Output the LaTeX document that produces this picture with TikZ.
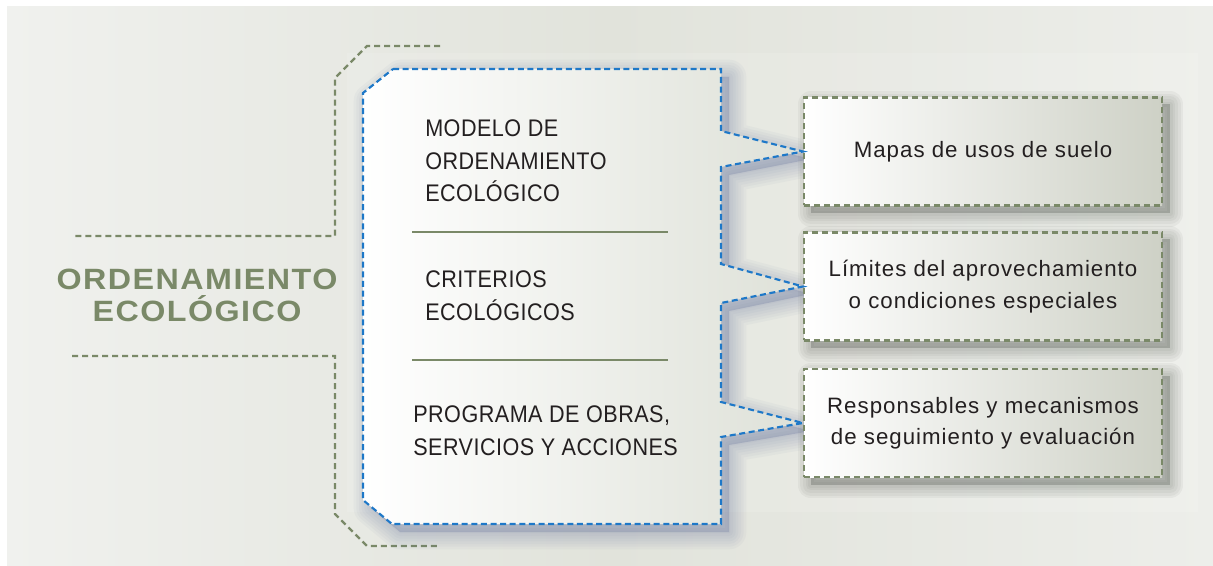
\documentclass[tikz,border=0pt]{standalone}
\usepackage{fontspec}
\setmainfont{Liberation Sans}
\newfontfamily\titlefont{Liberation Sans}[FakeStretch=1.1,LetterSpace=5]
\newfontfamily\panelfont{Liberation Sans}[FakeStretch=0.9,LetterSpace=2]
\newfontfamily\boxfont{Liberation Sans}[LetterSpace=4.5]
\definecolor{sage}{RGB}{122,137,104}
\definecolor{dashblue}{RGB}{30,120,200}
\definecolor{ink}{RGB}{35,31,32}
\definecolor{bgL}{RGB}{240,241,238}
\definecolor{bgM}{RGB}{225,227,219}
\definecolor{bgR}{RGB}{237,238,234}
\definecolor{boxR}{RGB}{206,209,198}
\definecolor{panelR}{RGB}{222,225,216}
\definecolor{boxshadow}{RGB}{80,85,78}
\definecolor{panelshadow}{RGB}{90,105,150}
\begin{document}
\begin{tikzpicture}[x=0.75pt,y=-0.75pt,
  bracket/.style={draw=sage, line width=1.8pt, dash pattern=on 4.5pt off 3pt},
  divider/.style={draw=sage, line width=1.5pt},
  titletext/.style={inner sep=0pt, align=center, text=sage,
    font=\titlefont\bfseries\fontsize{22}{24}\selectfont},
  paneltext/.style={inner sep=0pt, align=left, text=ink,
    font=\panelfont\fontsize{18}{24.4}\selectfont},
  outbox/.style={draw=sage, line width=1.6pt, dash pattern=on 4.5pt off 3pt,
    left color=white, right color=boxR,
    minimum width=268.5pt, minimum height=81pt, inner sep=0pt,
    align=center, text=ink, font=\boxfont\fontsize{16.7}{23.6}\selectfont},
  panel/.style={draw=dashblue, line width=1.6pt, dash pattern=on 4.5pt off 2.7pt,
    left color=white, right color=panelR},
  softshadow/.style={line join=round, opacity=0.045, line width=#1}
]
\useasboundingbox (0,0) rectangle (1213,566);
% background
\fill[left color=bgL, right color=bgR, middle color=bgM] (7,7) rectangle (1213,566);
\fill[white, opacity=0.12] (347,53) rectangle (1198,512);

% title
\node[titletext, anchor=north] (title) at (197,269) {ORDENAMIENTO\\ECOLÓGICO};

% bracket
\draw[bracket] (440,46) -- (367,46) -- (335,78) -- (335,236) -- (72,236);
\draw[bracket] (72,356) -- (335,356) -- (335,514) -- (367,546) -- (440,546);

% soft shadow of the panel
\foreach \w in {26,22,18,14,10,6,2}{
  \draw[softshadow=\w pt, draw=panelshadow, shift={(8,8)}]
    (393,69) -- (721,69) -- (721,131) -- (803,151) -- (721,167)
    -- (721,264) -- (803,286) -- (721,303) -- (721,402) -- (803,423) -- (721,437)
    -- (721,524) -- (392,524) -- (363,500) -- (363,93) -- cycle;
}
\fill[panelshadow, opacity=0.25, shift={(8,8)}]
    (393,69) -- (721,69) -- (721,131) -- (803,151) -- (721,167)
    -- (721,264) -- (803,286) -- (721,303) -- (721,402) -- (803,423) -- (721,437)
    -- (721,524) -- (392,524) -- (363,500) -- (363,93) -- cycle;
% soft shadows of the boxes
\foreach \cy in {151.5,286.5,423}{
  \foreach \w in {20,16,12,8,4}{
    \draw[softshadow=\w pt, draw=boxshadow, opacity=0.06]
      (811,\cy-47) rectangle (1170,\cy+62);
  }
  \fill[boxshadow, opacity=0.3] (811,\cy-47) rectangle (1170,\cy+62);
}

% output boxes
\node[outbox] (b1) at (983,151.5) {Mapas de usos de suelo};
\node[outbox] (b2) at (983,286.5) {Límites del aprovechamiento\\o condiciones especiales};
\node[outbox] (b3) at (983,423) {Responsables y mecanismos\\de seguimiento y evaluación};

% main panel
\draw[panel] (393,69) -- (721,69) -- (721,131) -- (b1.west) -- (721,167)
  -- (721,264) -- (b2.west) -- (721,303) -- (721,402) -- (b3.west) -- (721,437)
  -- (721,524) -- (392,524) -- (363,500) -- (363,93) -- cycle;

% dividers
\draw[divider] (412,232) -- (668,232);
\draw[divider] (412,360) -- (668,360);

% panel texts
\node[paneltext, anchor=north west] (t1) at (425,119.5) {MODELO DE\\ORDENAMIENTO\\ECOLÓGICO};
\node[paneltext, anchor=north west] (t2) at (425,270.5) {CRITERIOS\\ECOLÓGICOS};
\node[paneltext, anchor=north west] (t3) at (413,405.5) {PROGRAMA DE OBRAS,\\SERVICIOS Y ACCIONES};
\end{tikzpicture}
\end{document}
